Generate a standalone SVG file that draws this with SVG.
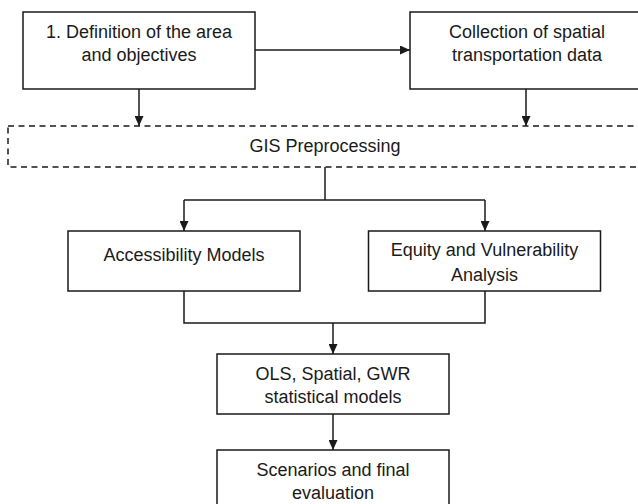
<svg xmlns="http://www.w3.org/2000/svg" width="638" height="504" viewBox="0 0 638 504">
  <style>
    .box { fill: #ffffff; stroke: #1a1a1a; stroke-width: 1.5; }
    .dash { fill: none; stroke: #1a1a1a; stroke-width: 1.5; stroke-dasharray: 6 4.5; }
    .lbl { font-family: "Liberation Sans", Arial, sans-serif; font-size: 18px; fill: #1a1a1a; text-anchor: middle; }
    .conn { fill: none; stroke: #1a1a1a; stroke-width: 1.5; }
  </style>
  <defs>
    <marker id="arrow" markerUnits="userSpaceOnUse" markerWidth="10" markerHeight="9" refX="10" refY="4.5" orient="auto">
      <path d="M0,0 L10,4.5 L0,9 Z" fill="#1a1a1a"/>
    </marker>
  </defs>
  <rect width="638" height="504" fill="#ffffff"/>

  <g id="connectors">
    <line class="conn" x1="255" y1="50" x2="410" y2="50" marker-end="url(#arrow)"/>
    <line class="conn" x1="139" y1="89" x2="139" y2="126" marker-end="url(#arrow)"/>
    <line class="conn" x1="526" y1="89" x2="526" y2="126" marker-end="url(#arrow)"/>
    <polyline class="conn" points="325,167 325,200"/>
    <line class="conn" x1="184" y1="200" x2="485" y2="200"/>
    <line class="conn" x1="184" y1="200" x2="184" y2="231" marker-end="url(#arrow)"/>
    <line class="conn" x1="485" y1="200" x2="485" y2="231" marker-end="url(#arrow)"/>
    <polyline class="conn" points="184,291 184,323 485,323 485,291"/>
    <line class="conn" x1="333" y1="323" x2="333" y2="354" marker-end="url(#arrow)"/>
    <line class="conn" x1="333" y1="414" x2="333" y2="450" marker-end="url(#arrow)"/>
  </g>

  <g id="node-definition">
    <rect class="box" x="23" y="12" width="232" height="77"/>
    <text class="lbl" x="139" y="38">1. Definition of the area</text>
    <text class="lbl" x="139" y="61">and objectives</text>
  </g>

  <g id="node-collection">
    <rect class="box" x="410" y="12" width="232" height="77"/>
    <text class="lbl" x="527" y="38">Collection of spatial</text>
    <text class="lbl" x="527" y="61">transportation data</text>
  </g>

  <g id="node-gis">
    <rect class="dash" x="8" y="126" width="640" height="41"/>
    <text class="lbl" x="325" y="152">GIS Preprocessing</text>
  </g>

  <g id="node-accessibility">
    <rect class="box" x="68" y="231" width="232" height="60"/>
    <text class="lbl" x="184" y="261">Accessibility Models</text>
  </g>

  <g id="node-equity">
    <rect class="box" x="368.5" y="231" width="232" height="60"/>
    <text class="lbl" x="484.5" y="256">Equity and Vulnerability</text>
    <text class="lbl" x="484.5" y="281">Analysis</text>
  </g>

  <g id="node-ols">
    <rect class="box" x="217" y="354" width="232" height="60"/>
    <text class="lbl" x="333" y="380">OLS, Spatial, GWR</text>
    <text class="lbl" x="333" y="403">statistical models</text>
  </g>

  <g id="node-scenarios">
    <rect class="box" x="217" y="450" width="232" height="60"/>
    <text class="lbl" x="333" y="475.5">Scenarios and final</text>
    <text class="lbl" x="333" y="499">evaluation</text>
  </g>
</svg>
